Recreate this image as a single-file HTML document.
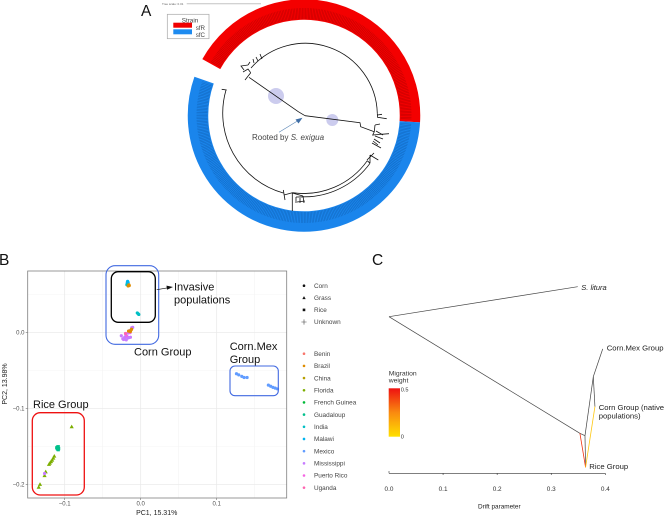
<!DOCTYPE html>
<html lang="en">
<head>
<meta charset="utf-8">
<title>Phylogeny, PCA and drift tree</title>
<style>
html,body{margin:0;padding:0;background:#fff;}
svg{display:block;font-family:"Liberation Sans",sans-serif;filter:blur(0.35px);}
</style>
</head>
<body>
<svg id="fig" xmlns="http://www.w3.org/2000/svg" width="667" height="522" viewBox="0 0 667 522">
<defs>
<linearGradient id="migGrad" x1="0" y1="0" x2="0" y2="1">
<stop offset="0" stop-color="#ee1111"/><stop offset="0.5" stop-color="#f98a10"/><stop offset="1" stop-color="#ffe000"/>
</linearGradient>
</defs>
<text x="141" y="16" font-size="15.5" fill="#111">A</text>
<text x="-1" y="265" font-size="15.5" fill="#111">B</text>
<text x="372" y="265" font-size="15.5" fill="#111">C</text>

<g>
<text x="162" y="4.8" font-size="3" fill="#666">Tree scale: 0.01</text>
<line x1="186.7" y1="3.7" x2="261" y2="3.7" stroke="#c4c4c4" stroke-width="1"/>
</g>

<g id="rings"></g>

<g fill="none" stroke="#111" stroke-width="0.8">
<circle cx="276" cy="96" r="8" fill="#ccccee" stroke="none"/>
<circle cx="332.3" cy="120" r="6" fill="#ccccee" stroke="none"/>
<path d="M305 115.7 L298.3 111.7 L249 77.3 M305 115.7 L360 122.7 L360.7 126.7 L374.3 131.7"/>
<path d="M251 68 A72 72 0 0 1 377.3 113.3"/>
<path d="M245 80 L250.7 72.7 M250.7 72.7 L248 69 L243 72 M244 70 L241 66 L248 65 M248 65 L250 62 M254 63 L253 59 M258 61 L256 57 M262 59 L260 54"/>
<path d="M377.3 113.3 L377.5 117.3 L386.7 118.7 M377.5 115 L382 114.3"/>
<path d="M375 125 L374.3 131.7 M375 125 L380 124 M374.3 131.7 L372.7 135 L389 133.7 M376 131 L383 135 M375 136 L383 139 M374 139 L380 143 M373 141 L378 145 M372 143 L381 148"/>
<path d="M221.7 89.3 L226.7 90 M226 90 A83 83 0 0 0 283.3 193"/>
<path d="M292.3 192.7 A78 78 0 0 0 367.3 160.7 M310 196.7 A82 82 0 0 0 370 163.3 M367.3 160.7 L370 163.3 M370 163 L370 155 M370 155 L378.3 160 M367 160 L374 153"/>
<path d="M283.3 190 L285 200 M284 195 L292.3 192.7 M292.3 192.7 L292.3 211 M292.3 193 L303 196 M296 197 L310 196.7 M296 197 L296 203 M303 196 L304 203 M300 198 L300 203 M297 202 L305 201"/>
</g>
<text x="252" y="140" font-size="8" fill="#444">Rooted by <tspan font-style="italic">S. exigua</tspan></text>
<line x1="279" y1="132.3" x2="299" y2="120" stroke="#5a85b5" stroke-width="0.6"/>
<polygon points="302.5,117.7 295.5,119.5 298.5,123.5" fill="#3f6ea6"/>

<g>
<rect x="167.3" y="14.3" width="41.7" height="24.4" fill="#fff" stroke="#a8a8a8" stroke-width="0.7"/>
<text x="190" y="22.3" font-size="6.3" text-anchor="middle" fill="#444">Strain</text>
<rect x="173.3" y="22.7" width="18.7" height="5" fill="#f00000"/>
<rect x="173.3" y="29.3" width="18.7" height="5" fill="#1e8bf0"/>
<text x="195.7" y="30.2" font-size="6.2" fill="#444">sfR</text>
<text x="195.7" y="37" font-size="6.2" fill="#444">sfC</text>
</g>

<g>
<g id="pcaGrid"></g>
<g id="pcaPoints"></g>
<rect x="27.7" y="271" width="259" height="227" fill="none" stroke="#7f7f7f" stroke-width="0.8"/>
<rect x="106" y="265.7" width="52.7" height="78.6" rx="9" fill="none" stroke="#4169e1" stroke-width="1.1"/>
<rect x="111.3" y="271.7" width="44" height="50.6" rx="7" fill="none" stroke="#000" stroke-width="1.3"/>
<rect x="230" y="366" width="48.3" height="29.7" rx="5" fill="none" stroke="#4169e1" stroke-width="1.1"/>
<rect x="32.3" y="412.7" width="52" height="82.3" rx="8" fill="none" stroke="#ee1111" stroke-width="1.3"/>
<line x1="156.7" y1="289.7" x2="168" y2="287.8" stroke="#111" stroke-width="0.7"/>
<polygon points="173,287 166.5,285.6 167,289.8" fill="#111"/>
<text x="174" y="290.7" font-size="11" fill="#111">Invasive</text>
<text x="174" y="303.7" font-size="11" fill="#111">populations</text>
<text x="134" y="355.7" font-size="11" fill="#111">Corn Group</text>
<text x="229.7" y="350" font-size="11" fill="#111">Corn.Mex</text>
<text x="229.7" y="363" font-size="11" fill="#111">Group</text>
<text x="33" y="408" font-size="11" fill="#111">Rice Group</text>
<text x="156.7" y="515" font-size="7" text-anchor="middle" fill="#222">PC1, 15.31%</text>
<text transform="translate(7,384) rotate(-90)" font-size="7" text-anchor="middle" fill="#222">PC2, 13.98%</text>
</g>

<g id="pcaLegend"></g>

<g>
<g id="driftEdges"></g>
<g id="driftAxis"></g>
<text x="499.3" y="508.7" font-size="6.4" text-anchor="middle" fill="#222">Drift parameter</text>
<text x="581.3" y="290" font-size="7.5" font-style="italic" fill="#222">S. litura</text>
<text x="606.7" y="350.3" font-size="7.7" fill="#222">Corn.Mex Group</text>
<text x="598.7" y="410" font-size="7.7" fill="#222">Corn Group (native</text>
<text x="598.7" y="418.5" font-size="7.7" fill="#222">populations)</text>
<text x="589.3" y="469" font-size="7.7" fill="#222">Rice Group</text>
<text x="388.7" y="375.3" font-size="6.8" fill="#333">Migration</text>
<text x="388.7" y="382.7" font-size="6.8" fill="#333">weight</text>
<rect x="388.7" y="388.3" width="11.3" height="48.4" fill="url(#migGrad)"/>
<text x="400.7" y="391.5" font-size="5.6" fill="#333">0.5</text>
<text x="400.7" y="438.5" font-size="5.6" fill="#333">0</text>
</g>
</svg>

<script>
var pcaTicksMajor = [-0.1, 0, 0.1];
var pcaXTicksMinor = [-0.05, 0.05, 0.15];
var pcaYTicksMajor = [0, -0.1, -0.2];
var pcaYTicksMinor = [0.05, -0.05, -0.15];

var countries = ["Benin","Brazil","China","Florida","French Guinea","Guadaloup","India","Malawi","Mexico","Mississippi","Puerto Rico","Uganda"];
var countryColors = ["#F8766D","#DE8C00","#B79F00","#7CAE00","#00BA38","#00C08B","#00BFC4","#00B4F0","#619CFF","#C77CFF","#F564E3","#FF64B0"];
var hostTypes = ["Corn","Grass","Rice","Unknown"];

var pc1Values = [-0.0175,-0.0178,-0.0170,-0.0165,-0.0182,-0.0172,-0.0155,-0.0150,-0.0165,-0.0045,-0.0035,-0.0025,
  -0.0225,-0.0210,-0.0235,-0.0195,-0.0180,-0.0165,-0.0150,-0.0200,-0.0170,-0.0140,-0.0118,-0.0105,-0.0190,-0.0160,-0.0135,-0.0120,-0.0128,-0.0255,-0.0155,-0.0135,
  0.126,0.129,0.133,0.136,0.140,0.168,0.171,0.174,0.177,0.180,
  -0.0908,-0.1207,-0.1195,-0.1180,-0.1165,-0.1150,-0.1137,-0.1265,-0.1250,-0.1325,-0.1342,
  -0.1105,-0.1095,-0.1085,-0.1080,-0.1095,-0.1085,-0.1265];
var pc2Values = [0.0660,0.0640,0.0630,0.0655,0.0625,0.0670,0.0625,0.0615,0.0610,0.0255,0.0245,0.0235,
  -0.0095,-0.0065,-0.0085,-0.0035,-0.0055,-0.0010,0.0020,-0.0015,-0.0075,-0.0005,0.0060,0.0065,-0.0100,0.0015,0.0010,0.0040,0.0030,-0.0045,-0.0070,-0.0065,
  -0.0545,-0.0560,-0.0580,-0.0595,-0.0595,-0.0695,-0.0710,-0.0725,-0.0735,-0.0745,
  -0.1242,-0.1737,-0.1720,-0.1700,-0.1680,-0.1655,-0.1628,-0.1885,-0.1835,-0.2000,-0.2037,
  -0.1520,-0.1510,-0.1505,-0.1530,-0.1535,-0.1545,-0.1858];
var pointCountry = [7,7,6,7,6,7,1,1,1,6,6,6,
  9,9,9,9,10,9,9,11,9,10,9,9,9,1,1,1,1,9,9,9,
  8,8,8,8,8,8,8,8,8,8,
  3,3,3,3,3,3,3,3,3,3,3,
  5,5,5,5,5,5,9];
var pointHost = [0,0,0,0,0,0,0,0,0,0,0,0,
  0,0,0,0,0,0,0,0,0,0,0,0,0,0,0,0,0,0,0,0,
  0,0,0,0,0,0,0,0,0,0,
  1,1,1,1,1,1,1,1,1,1,1,
  2,2,2,2,2,2,0];

var driftTicks = [0, 0.1, 0.2, 0.3, 0.4];
var driftNodeX = [0, 0.349, 0.353, 0.3624, 0.3778, 0.3952, 0.3808, 0.3635];
var driftNodeY = [83.4, 100, 18.8, 17.5, 50.2, 65.6, 33.6, 0];
var driftEdgeFrom = [0, 0, 2, 3, 4, 4, 3];
var driftEdgeTo = [1, 2, 3, 4, 5, 6, 7];
var migrationFrom = [2, 6];
var migrationTo = [7, 7];
var migrationWeight = [0.42, 0.06];

var svgNS = "http://www.w3.org/2000/svg";
function mk(tag, parent, attrs) {
  var e = document.createElementNS(svgNS, tag);
  for (var k in attrs) e.setAttribute(k, attrs[k]);
  parent.appendChild(e);
  return e;
}
function pcaX(v) { return 140.7 + v * 760; }
function pcaY(v) { return 332.3 - v * 760; }
function driftX(v) { return 389 + v * 540.8; }
function driftY(v) { return 467.3 - v * 1.806; }

/* ring */
function arcPath(r, a0, a1) {
  var cx = 304, cy = 115.5, p = Math.PI / 180;
  var large = Math.abs(a1 - a0) > 180 ? 1 : 0;
  return "M" + (cx + r * Math.cos(a0 * p)) + " " + (cy + r * Math.sin(a0 * p)) +
    " A" + r + " " + r + " 0 " + large + " 1 " + (cx + r * Math.cos(a1 * p)) + " " + (cy + r * Math.sin(a1 * p));
}
var rings = document.getElementById("rings");
var redBand = mk("path", rings, {d: arcPath(106, -151, 3.4), fill: "none", stroke: "#f40000", "stroke-width": 20.5});


var blueBand = mk("path", rings, {d: arcPath(106, 3.4, 199.5), fill: "none", stroke: "#1a85ec", "stroke-width": 20.5});


var redLabels = mk("path", rings, {d: arcPath(102, -150, 2.5), fill: "none", stroke: "#8a0000", "stroke-width": 11, "stroke-dasharray": "0.5 1", opacity: 0.5});


var blueLabels = mk("path", rings, {d: arcPath(102, 4.5, 198.5), fill: "none", stroke: "#0a4a90", "stroke-width": 11, "stroke-dasharray": "0.5 1", opacity: 0.5});



/* PCA grid and ticks */
var grid = document.getElementById("pcaGrid");
pcaXTicksMinor.forEach(function (v) {
  var l = mk("line", grid, {x1: pcaX(v), x2: pcaX(v), y1: 271, y2: 498, stroke: "#f0f0f0", "stroke-width": 0.4});
  
  
});
pcaYTicksMinor.forEach(function (v) {
  var l = mk("line", grid, {x1: 27.7, x2: 286.7, y1: pcaY(v), y2: pcaY(v), stroke: "#f0f0f0", "stroke-width": 0.4});
  
  
});
pcaTicksMajor.forEach(function (v) {
  var l = mk("line", grid, {x1: pcaX(v), x2: pcaX(v), y1: 271, y2: 498, stroke: "#e8e8e8", "stroke-width": 0.7});
  
  
  var t = mk("line", grid, {x1: pcaX(v), x2: pcaX(v), y1: 498, y2: 500, stroke: "#555", "stroke-width": 0.5});
  
  
  var s = mk("text", grid, {x: pcaX(v), y: 505.5, "font-size": 6, "text-anchor": "middle", fill: "#4d4d4d"});
  
  
  s.textContent = v === 0 ? "0.0" : (v < 0 ? "\u2212" : "") + Math.abs(v).toFixed(1);
});
pcaYTicksMajor.forEach(function (v) {
  var l = mk("line", grid, {x1: 27.7, x2: 286.7, y1: pcaY(v), y2: pcaY(v), stroke: "#e8e8e8", "stroke-width": 0.7});
  
  
  var t = mk("line", grid, {x1: 25.7, x2: 27.7, y1: pcaY(v), y2: pcaY(v), stroke: "#555", "stroke-width": 0.5});
  
  
  var s = mk("text", grid, {x: 24.5, y: pcaY(v) + 2, "font-size": 6, "text-anchor": "end", fill: "#4d4d4d"});
  
  
  s.textContent = v === 0 ? "0.0" : (v < 0 ? "\u2212" : "") + Math.abs(v).toFixed(1);
});

/* marker drawing */
function marker(parent, host, x, y, color, size) {
  if (host === 0) return mk("circle", parent, {cx: x, cy: y, r: size, fill: color});
  if (host === 1) return mk("polygon", parent, {points: x + "," + (y - size * 1.3) + " " + (x - size * 1.3) + "," + (y + size) + " " + (x + size * 1.3) + "," + (y + size), fill: color});
  if (host === 2) return mk("rect", parent, {x: x - size, y: y - size, width: size * 2, height: size * 2, fill: color});
  return mk("path", parent, {d: "M" + (x - size * 2) + " " + y + "H" + (x + size * 2) + "M" + x + " " + (y - size * 2) + "V" + (y + size * 2), stroke: color, "stroke-width": 0.6, fill: "none"});
}

/* PCA points */
var pointsGroup = document.getElementById("pcaPoints");
pc1Values.forEach(function (v, i) {
  var m = marker(pointsGroup, pointHost[i], pcaX(v), pcaY(pc2Values[i]), countryColors[pointCountry[i]], 1.6);
  
  
});

/* legends */
var legend = document.getElementById("pcaLegend");
hostTypes.forEach(function (name, i) {
  var y = 285.7 + i * 12.1;
  var m = marker(legend, i, 304, y, i === 3 ? "#444" : "#111", 1.3);
  
  
  var t = mk("text", legend, {x: 314, y: y + 2.2, "font-size": 6.4, fill: "#444"});
  
  
  t.textContent = name;
});
countries.forEach(function (name, i) {
  var y = 353.7 + i * 12.18;
  var m = mk("circle", legend, {cx: 304, cy: y, r: 1.3, fill: countryColors[i]});
  
  
  var t = mk("text", legend, {x: 314, y: y + 2.2, "font-size": 6.4, fill: "#444"});
  
  
  t.textContent = name;
});

/* drift tree */
var edges = document.getElementById("driftEdges");
driftEdgeFrom.forEach(function (from, i) {
  var to = driftEdgeTo[i];
  var l = mk("line", edges, {x1: driftX(driftNodeX[from]), y1: driftY(driftNodeY[from]), x2: driftX(driftNodeX[to]), y2: driftY(driftNodeY[to]), stroke: "#444", "stroke-width": 0.7});
  
  
});
migrationFrom.forEach(function (from, i) {
  var to = migrationTo[i];
  var w = migrationWeight[i] / 0.5;
  var color = "rgb(" + Math.round(255 - 17 * w) + "," + Math.round(224 * (1 - w) + 17 * w) + ",17)";
  var l = mk("line", edges, {x1: driftX(driftNodeX[from]), y1: driftY(driftNodeY[from]), x2: driftX(driftNodeX[to]), y2: driftY(driftNodeY[to]), stroke: color, "stroke-width": 0.8});
  
  
});

var axis = document.getElementById("driftAxis");
var axisLine = mk("line", axis, {x1: driftX(driftTicks[0]), x2: driftX(driftTicks[driftTicks.length - 1]), y1: 473.3, y2: 473.3, stroke: "#333", "stroke-width": 0.7});


driftTicks.forEach(function (v, i) {
  var t = mk("line", axis, {x1: driftX(v), x2: driftX(v), y1: i === 0 ? 471 : 473.3, y2: i === 0 ? 473.3 : 475, stroke: "#333", "stroke-width": 0.6});
  
  
  var s = mk("text", axis, {x: driftX(v), y: 491, "font-size": 6.4, "text-anchor": "middle", fill: "#333"});
  
  
  s.textContent = v.toFixed(1);
});
</script>
</body>
</html>
